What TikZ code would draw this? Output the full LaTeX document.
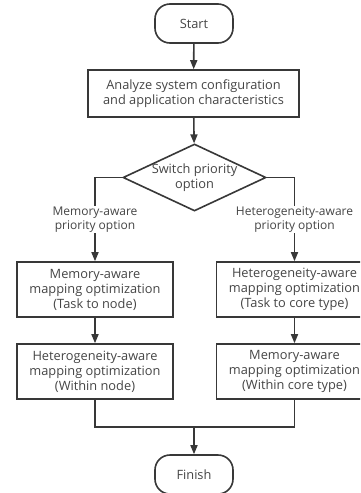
\documentclass[tikz,border=0pt]{standalone}
\usepackage{fontspec}
\setmainfont{Open Sans}
\usetikzlibrary{shapes.geometric,arrows.meta}
\definecolor{ink}{HTML}{383838}
\definecolor{txt}{HTML}{454545}
\begin{document}
\begin{tikzpicture}[x=1pt,y=-1pt,
  line width=1.6pt,
  every node/.style={font=\fontsize{12.8}{15}\selectfont, text=txt, align=center},
  term/.style={draw=ink, rounded corners=15pt, minimum width=78pt, minimum height=39pt, inner sep=0pt},
  procbox/.style={draw=ink, minimum width=156pt, minimum height=55pt, inner sep=0pt},
  wideproc/.style={draw=ink, minimum width=211pt, minimum height=47pt, inner sep=0pt},
  decision/.style={draw=ink, diamond, minimum width=143pt, minimum height=67pt, inner sep=0pt},
  branchlabel/.style={fill=white, inner sep=1pt, font=\fontsize{12}{14}\selectfont},
  flow/.style={draw=ink, -{Triangle[length=9pt,width=7pt]}},
  link/.style={draw=ink}]
\clip (0,0) rectangle (360,493);
\useasboundingbox (0,0) rectangle (360,493);
\fill[white] (0,0) rectangle (360,493);

\node[term] (start) at (194,23.5) {Start};
\node[wideproc] (analyze) at (193.5,93.5) {Analyze system configuration\\and application characteristics};
\node[decision] (switch) at (194.5,177.5) {};
\node at (switch) {Switch priority\\option};

\node[procbox] (memnode) at (95,289.5) {Memory-aware\\mapping optimization\\(Task to node)};
\node[procbox] (hetwithin) at (95,371.5) {Heterogeneity-aware\\mapping optimization\\(Within node)};
\node[procbox] (hetcore) at (294.5,289.5) {Heterogeneity-aware\\mapping optimization\\(Task to core type)};
\node[procbox] (memwithin) at (294.5,371.5) {Memory-aware\\mapping optimization\\(Within core type)};

\node[term] (finish) at (194,474.5) {Finish};
\coordinate (merge) at (194,427);

\path[flow] (start) -- (analyze);
\path[flow] (analyze) -- (switch);
\path[flow] (switch.west) -| (memnode.north)
  node[branchlabel, pos=0.75] {Memory-aware\\priority option};
\path[flow] (switch.east) -| (hetcore.north)
  node[branchlabel, pos=0.75] {Heterogeneity-aware\\priority option};
\path[flow] (memnode) -- (hetwithin);
\path[flow] (hetcore) -- (memwithin);
\path[link] (hetwithin.south) |- (merge);
\path[link] (memwithin.south) |- (merge);
\path[flow] (merge) -- (finish);
\end{tikzpicture}
\end{document}
